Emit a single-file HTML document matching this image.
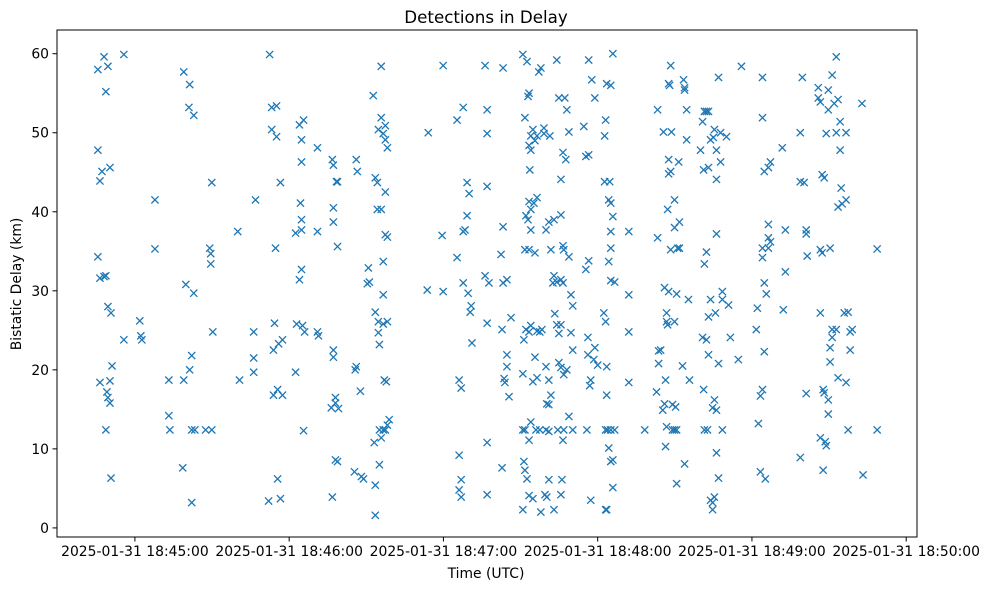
<!DOCTYPE html>
<html><head><meta charset="utf-8"><style>
body{margin:0;background:#fff;}
svg text{font-family:"DejaVu Sans","Liberation Sans",sans-serif;fill:#000;}
</style></head><body>
<svg id="chart" width="989" height="590" viewBox="0 0 989 590" xmlns="http://www.w3.org/2000/svg">
<rect width="989" height="590" fill="#fff"/>
<text x="486" y="23" font-size="16.7" text-anchor="middle">Detections in Delay</text>
<text x="486" y="578" font-size="13.9" text-anchor="middle">Time (UTC)</text>
<text x="0" y="0" font-size="13.9" text-anchor="middle" transform="translate(21,284) rotate(-90)">Bistatic Delay (km)</text>
<g id="marks"></g>
<g id="axes"></g>
</svg>
<script>
// seconds after 2025-01-31 18:45:00
const times = [
-14.4,-12.0,-10.5,-11.3,-14.4,-12.8,-13.6,-9.7,-14.4,-13.6,-11.3,-12.0,-10.5,-9.3,-8.9,-13.6,-9.7,-10.9,-10.5,-9.7,-11.3,-9.3,
-4.3,-4.3,1.9,2.3,2.7,7.8,7.8,13.2,13.2,13.6,19.0,21.3,21.0,22.9,19.8,22.9,19.0,21.3,22.1,18.6,22.1,22.1,23.3,27.5,29.9,29.9,29.1,29.5,29.5,30.3,
40.0,40.7,46.2,46.2,46.2,46.9,52.4,53.2,55.1,53.2,55.1,54.7,56.6,54.3,55.9,57.4,53.9,53.9,55.5,57.4,52.0,55.5,56.6,
62.5,62.5,62.9,64.0,64.8,64.0,65.6,64.8,64.8,64.4,64.8,64.8,65.2,66.0,65.6,71.0,71.0,71.0,71.4,76.8,77.2,78.4,78.8,77.2,77.2,78.8,77.2,77.2,78.0,78.0,76.4,79.2,78.0,78.8,76.8,
86.1,86.5,86.1,85.7,87.7,85.4,88.1,88.9,91.2,90.4,90.8,92.7,93.5,94.3,94.3,95.8,94.7,95.8,97.4,96.6,97.4,98.2,95.8,97.4,97.4,98.2,96.6,96.6,93.5,94.7,94.7,95.1,96.6,98.2,97.0,97.8,96.6,97.4,98.2,98.9,95.1,95.8,93.1,95.1,93.5,93.5,
114.1,113.7,119.9,119.5,119.9,125.3,125.3,127.7,126.1,126.9,126.1,126.1,126.9,126.9,127.7,127.7,128.4,129.2,129.2,130.0,129.6,130.8,130.4,131.1,
136.2,137.0,137.0,137.0,136.2,137.7,137.0,137.0,137.0,143.2,142.4,143.2,144.7,143.6,143.9,142.8,143.2,142.8,146.3,144.7,144.7,145.5,
150.9,152.5,152.9,153.3,151.7,154.0,154.8,156.4,155.6,153.3,154.0,153.6,152.1,153.3,154.0,155.2,156.4,152.9,154.0,151.7,153.3,155.6,152.1,153.3,151.3,154.0,156.4,157.5,158.3,155.6,
150.9,154.8,156.4,150.9,151.7,154.0,153.3,156.0,157.5,159.9,161.0,151.3,151.7,152.5,150.9,153.3,154.8,157.9,159.5,161.0,160.2,160.2,161.0,161.8,161.0,159.9,159.9,161.0,161.8,163.0,
165.7,166.5,166.8,164.1,157.9,157.1,159.1,159.1,161.4,164.9,167.2,168.0,168.8,165.7,166.5,167.6,168.8,169.6,170.3,164.1,162.6,165.7,163.0,166.5,163.3,164.1,165.7,164.9,169.6,170.3,
164.9,165.7,166.8,168.0,164.5,166.8,166.5,168.8,163.0,165.7,166.1,170.3,
174.6,176.5,175.4,176.5,175.4,176.2,176.2,177.3,176.9,178.9,178.5,180.0,175.8,177.3,176.5,177.7,178.9,182.7,183.1,183.5,185.1,185.9,182.7,184.7,184.3,185.1,185.9,185.1,185.1,184.3,
185.1,186.6,182.4,183.1,183.5,183.5,183.1,183.9,185.1,186.6,184.3,185.1,185.9,183.5,183.1,185.9,192.1,192.1,192.1,192.1,198.3,
202.9,203.7,203.7,204.5,203.3,203.3,205.6,206.0,206.8,206.4,206.4,205.3,207.2,206.8,206.8,206.0,207.6,208.4,207.2,207.6,208.4,207.6,207.6,208.0,208.4,
208.7,209.1,209.1,209.9,210.7,210.3,209.9,209.9,209.9,210.7,210.7,211.1,211.8,211.8,211.5,213.0,213.4,213.8,213.8,214.6,214.6,213.8,215.3,215.7,
220.0,220.8,221.5,222.3,223.1,221.2,223.1,221.5,222.3,220.8,221.2,221.5,222.7,222.3,223.1,223.1,223.9,223.9,225.0,225.4,224.7,225.4,226.2,
227.0,226.2,226.2,226.2,225.8,226.2,228.5,228.5,228.5,223.9,224.7,224.7,225.4,227.0,227.8,227.8,227.0,230.1,230.9,231.6,235.9,234.7,
242.5,242.1,244.1,244.1,244.1,244.1,244.8,244.8,245.6,244.1,243.3,244.8,243.3,245.2,246.4,246.4,246.4,246.4,247.2,247.2,241.7,
253.0,253.0,252.2,251.8,258.8,259.6,258.8,260.3,261.1,261.1,261.1,258.8,261.5,
265.8,265.8,266.6,267.3,268.1,266.6,267.3,270.4,266.6,267.7,268.1,266.6,267.7,268.5,268.9,269.7,269.7,270.4,270.4,271.2,271.2,272.8,273.5,276.6,277.4,
275.9,277.4,278.2,279.0,278.2,269.7,269.7,271.2,272.0,272.8,273.5,268.9,272.8,274.3,276.6,274.3,274.7,273.5,275.1,276.6,282.8,283.2,288.7,288.7
];
const delays = [
58.0,59.6,58.4,55.2,47.8,45.1,43.9,45.6,34.3,31.6,31.9,31.8,28.0,27.2,20.5,18.4,18.6,17.2,16.5,15.8,12.4,6.3,
59.9,23.8,26.2,24.3,23.8,41.5,35.3,18.7,14.2,12.4,57.7,56.1,53.2,52.2,30.8,29.7,18.7,20.0,21.8,7.6,3.2,12.4,12.4,12.4,12.4,43.7,35.4,34.7,33.4,24.8,
37.5,18.7,24.8,21.5,19.7,41.5,59.9,53.2,53.4,50.4,49.5,35.4,43.7,25.9,23.3,23.8,22.5,16.8,17.5,16.8,3.4,6.2,3.7,
37.3,19.7,25.8,31.4,32.7,51.0,51.6,49.1,46.3,41.1,39.0,37.7,25.6,24.8,12.3,48.1,37.5,24.8,24.3,46.6,45.9,43.8,43.8,40.5,38.7,35.6,22.5,21.6,16.5,15.8,15.2,15.1,8.6,8.4,3.9,
46.6,45.1,20.4,20.0,17.3,7.1,6.5,6.2,31.1,30.9,32.9,54.7,44.3,43.7,40.3,40.3,50.4,51.9,50.9,49.9,49.1,48.1,58.4,42.5,37.1,36.8,33.7,29.5,27.3,26.1,24.7,23.2,25.8,26.1,18.7,18.5,12.4,12.4,13.0,13.7,12.4,11.4,10.8,8.0,5.4,1.6,
50.0,30.1,29.9,37.0,58.5,34.2,51.6,53.2,18.7,17.7,9.2,4.8,3.9,6.1,31.0,37.5,37.7,39.5,43.7,42.3,29.7,28.1,27.3,23.4,
58.5,52.9,49.9,43.2,31.9,31.0,25.9,10.8,4.2,58.2,34.6,31.0,31.4,18.9,18.4,7.6,38.1,25.1,26.6,20.4,21.9,16.6,
59.9,59.0,54.6,55.0,51.9,49.6,50.4,49.6,49.0,48.4,47.8,45.3,39.5,41.3,40.3,41.1,41.8,39.0,37.7,35.2,35.2,34.8,25.1,24.8,23.8,25.6,24.9,24.8,25.1,21.6,
19.5,18.5,19.0,12.4,12.4,13.4,11.1,12.4,12.4,12.4,12.2,8.4,7.3,6.2,2.3,4.1,3.7,2.0,4.2,6.1,3.9,15.7,15.6,16.8,18.7,20.4,37.7,38.7,35.2,39.0,
39.6,35.7,35.2,59.2,58.2,57.7,50.6,49.9,49.6,54.4,54.4,52.9,50.1,44.1,47.5,46.6,34.3,29.5,28.1,31.1,31.0,31.4,31.9,31.0,27.1,25.7,25.7,24.6,24.7,22.5,
20.9,20.3,19.4,20.0,12.4,12.4,11.1,14.1,2.3,4.2,6.1,12.4,
50.8,47.2,47.0,33.8,32.7,24.1,21.9,18.7,18.0,22.8,21.3,20.6,12.4,3.5,59.2,56.7,54.4,49.6,51.6,56.2,56.0,60.0,43.8,43.8,41.5,41.1,39.4,37.5,35.4,33.7,
31.3,31.1,27.2,26.1,20.4,16.8,12.4,12.4,12.4,12.4,10.1,8.4,8.6,2.3,2.3,5.1,37.5,29.5,24.8,18.4,12.4,
17.2,20.8,22.4,22.5,36.7,52.9,50.1,15.7,12.8,10.3,18.7,14.9,25.7,26.1,27.2,30.4,29.9,35.2,40.3,44.8,45.1,46.6,56.2,56.0,58.5,
50.1,15.6,12.4,12.4,12.4,15.3,38.0,41.5,26.1,29.6,5.6,35.4,35.4,38.7,46.3,20.5,56.7,55.7,55.4,52.9,49.1,8.1,28.9,18.7,
47.8,51.4,52.7,52.7,52.7,45.3,45.6,33.4,34.9,24.1,17.5,12.4,12.4,23.8,21.9,26.7,28.9,49.1,49.4,50.4,15.2,16.2,14.9,
57.0,47.8,37.2,44.1,27.2,9.5,29.9,28.9,12.4,3.5,3.2,2.3,3.9,6.3,46.3,50.0,20.8,49.5,28.2,24.1,58.4,21.3,
13.2,27.8,34.2,35.4,51.9,57.0,45.1,31.0,29.6,17.5,16.7,22.3,7.1,6.2,45.6,38.4,36.7,35.4,46.3,36.2,25.1,
37.7,32.4,27.6,48.1,50.0,57.0,43.8,43.7,37.7,37.2,17.0,8.9,34.4,
54.4,55.7,53.9,44.7,44.3,35.2,34.8,35.4,27.2,17.5,17.1,11.4,7.3,10.9,10.4,14.4,16.2,21.0,22.8,24.1,25.1,25.1,19.0,18.4,12.4,
27.2,27.3,24.8,25.1,22.5,55.4,52.9,57.3,53.7,59.6,54.2,49.9,50.0,51.4,50.0,47.8,43.0,40.6,41.0,41.5,53.7,6.7,35.3,12.4
];
const xTickSeconds = [0, 60, 120, 180, 240, 300];
const xTickLabels = ["2025-01-31 18:45:00","2025-01-31 18:46:00","2025-01-31 18:47:00","2025-01-31 18:48:00","2025-01-31 18:49:00","2025-01-31 18:50:00"];
const yTicks = [0, 10, 20, 30, 40, 50, 60];

const NS = "http://www.w3.org/2000/svg";
const L = 57, R = 917, T = 30, B = 537;
const xMin = -30.3, xMax = 304.2, yMin = -1.15, yMax = 63.0;
function xs(t){ return L + (t - xMin) / (xMax - xMin) * (R - L); }
function ys(d){ return B - (d - yMin) / (yMax - yMin) * (B - T); }
function mk(tag, attrs){ const e = document.createElementNS(NS, tag); for (const k in attrs) e.setAttribute(k, attrs[k]); return e; }

const marks = document.getElementById('marks');
const n = Math.min(times.length, delays.length);
for (let i = 0; i < n; i++) {
  const cx = xs(times[i]), cy = ys(delays[i]), s = 3.6;
  const p = mk('path', {d:`M${cx-s},${cy-s}L${cx+s},${cy+s}M${cx-s},${cy+s}L${cx+s},${cy-s}`, stroke:'#1f77b4', 'stroke-width':1.3, fill:'none'});
  
  
  marks.appendChild(p);
}

const axes = document.getElementById('axes');
const frame = mk('rect', {x:L, y:T, width:R-L, height:B-T, fill:'none', stroke:'#000', 'stroke-width':1});


axes.appendChild(frame);
xTickSeconds.forEach((t, i) => {
  const x = xs(t);
  const tk = mk('line', {x1:x, x2:x, y1:B, y2:B+4.5, stroke:'#000', 'stroke-width':1});
  
  
  axes.appendChild(tk);
  const tx = mk('text', {x:x, y:B+19, 'font-size':13.9, 'text-anchor':'middle'});
  tx.textContent = xTickLabels[i];
  
  
  axes.appendChild(tx);
});
yTicks.forEach(v => {
  const y = ys(v);
  const tk = mk('line', {x1:L-4.5, x2:L, y1:y, y2:y, stroke:'#000', 'stroke-width':1});
  
  
  axes.appendChild(tk);
  const tx = mk('text', {x:L-8, y:y+5, 'font-size':13.9, 'text-anchor':'end'});
  tx.textContent = v;
  
  
  axes.appendChild(tx);
});
</script>
</body></html>
